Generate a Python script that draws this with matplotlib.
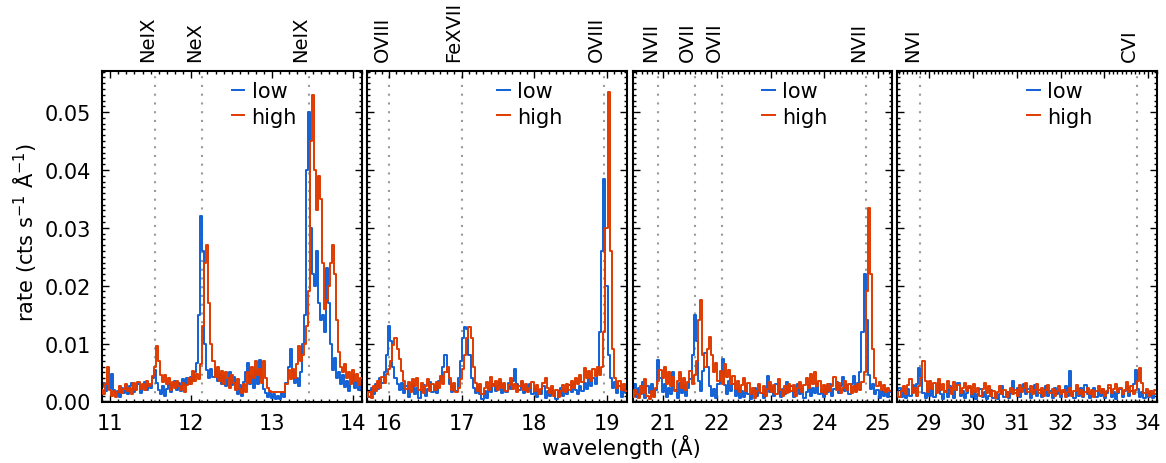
import matplotlib
matplotlib.use("Agg")
import matplotlib.pyplot as plt
import matplotlib.transforms as mtransforms
import numpy as np
from matplotlib.ticker import MultipleLocator

plt.rcParams["font.family"] = ["DejaVu Sans"]
plt.rcParams["mathtext.fontset"] = "dejavusans"

# rates in units of 1e-3 cts/s/A, on regular wavelength grids (start, step)
P1_START, P1_STEP = 10.9, 0.025
P1_LOW = [
    2.5, 3.2, 1.8, 3.5, 2.2, 4.8, 2.0, 1.2, 1.8, 0.8,
    2.4, 1.5, 2.8, 1.2, 2.6, 3.2, 1.6, 2.2, 3.0, 1.4,
    2.5, 3.4, 1.9, 3.0, 2.4, 4.0, 5.4, 3.2, 2.0, 1.2,
    2.6, 1.0, 2.2, 3.0, 1.6, 2.8, 3.6, 2.0, 3.2, 1.8,
    3.8, 2.8, 4.0, 3.0, 4.2, 3.6, 5.0, 6.6, 15.0, 32.0,
    26.0, 10.0, 5.5, 4.0, 5.6, 4.2, 5.2, 3.6, 4.8, 3.0,
    4.4, 2.6, 3.8, 5.0, 2.8, 4.2, 2.2, 1.2, 2.8, 1.0,
    3.4, 5.0, 6.6, 3.0, 4.4, 2.4, 5.2, 3.0, 7.2, 4.0,
    2.2, 1.4, 0.8, 1.6, 0.6, 1.2, 0.5, 1.0, 0.4, 1.4,
    0.8, 3.2, 6.0, 9.0, 5.0, 3.2, 4.0, 2.6, 5.0, 10.0,
    15.0, 40.0, 50.0, 30.0, 22.0, 20.0, 26.0, 17.0, 14.0, 15.0,
    12.0, 23.0, 17.0, 10.0, 5.5, 7.5, 4.0, 5.0, 3.0, 4.5,
    2.5, 3.5, 1.8, 3.2, 4.6, 2.4, 3.4, 2.0, 3.0,
]
P1_HIGH = [
    2.0, 1.2, 3.0, 6.0, 2.0, 1.0, 1.8, 0.8, 1.6, 2.6,
    1.4, 2.2, 3.0, 1.8, 2.4, 1.2, 3.2, 2.0, 3.4, 2.2,
    3.0, 2.0, 3.6, 2.6, 3.0, 4.4, 6.0, 9.5, 7.0, 4.5,
    3.4, 4.6, 3.0, 4.0, 2.0, 3.4, 2.4, 3.6, 2.6, 2.0,
    3.2, 1.6, 2.8, 4.0, 3.0, 5.2, 3.6, 4.8, 3.8, 6.5,
    13.0, 24.0, 27.0, 17.0, 10.0, 7.0, 4.2, 6.0, 3.6, 5.2,
    3.0, 5.0, 4.0, 2.4, 4.6, 3.2, 2.0, 3.8, 2.2, 1.4,
    3.0, 1.6, 5.0, 3.2, 6.0, 4.0, 7.0, 4.6, 5.6, 3.2,
    7.0, 4.0, 2.4, 1.8, 1.6, 1.6, 1.6, 1.6, 1.6, 1.6,
    1.6, 3.0, 5.4, 3.8, 5.6, 4.0, 6.4, 9.5, 7.0, 8.0,
    10.0, 13.0, 19.0, 45.0, 53.0, 40.0, 33.0, 39.0, 35.0, 24.0,
    16.0, 17.5, 20.0, 24.0, 27.0, 22.0, 14.0, 8.5, 6.0, 5.0,
    6.5, 4.0, 5.0, 3.0, 5.5, 3.6, 4.8, 2.8, 4.0,
]

P2_START, P2_STEP = 15.7, 0.03
P2_LOW = [
    1.5, 0.8, 2.4, 1.2, 3.0, 2.2, 4.0, 3.2, 5.0, 8.0,
    13.0, 10.5, 6.0, 4.0, 3.0, 2.0, 3.2, 1.4, 2.6, 0.8,
    2.0, 3.0, 1.2, 2.4, 0.6, 1.8, 2.8, 1.0, 2.2, 3.4,
    1.6, 2.6, 1.4, 3.6, 4.0, 6.0, 8.0, 5.0, 3.0, 1.6,
    2.6, 1.8, 4.0, 7.0, 11.0, 12.9, 12.6, 8.0, 4.0, 2.4,
    1.4, 2.8, 1.2, 0.4, 1.8, 0.6, 2.4, 1.6, 3.0, 1.8,
    2.6, 3.4, 1.4, 2.8, 1.6, 3.2, 2.2, 3.6, 5.6, 3.0,
    2.0, 3.4, 1.4, 2.6, 1.8, 3.0, 1.2, 2.4, 0.8, 2.0,
    1.2, 2.6, 0.6, 1.8, 1.0, 2.2, 1.4, 0.5, 1.6, 2.4,
    1.0, 2.0, 1.2, 2.8, 1.6, 3.0, 2.0, 1.2, 2.6, 1.8,
    3.2, 2.2, 3.8, 2.6, 4.0, 3.0, 5.0, 12.0, 26.0, 38.5,
    20.0, 8.0, 4.0, 2.4, 3.4, 1.4, 2.6, 0.8, 2.2, 1.4,
]
P2_HIGH = [
    0.8, 1.6, 0.6, 2.6, 1.8, 3.6, 2.4, 4.2, 3.2, 4.8,
    5.6, 7.0, 9.8, 11.0, 9.0, 7.4, 5.2, 3.6, 2.2, 3.4,
    1.6, 3.8, 2.6, 4.0, 2.0, 3.2, 1.4, 2.6, 3.8, 1.8,
    3.0, 2.0, 3.4, 2.4, 4.4, 3.0, 5.0, 6.0, 4.0, 2.0,
    3.2, 1.6, 2.4, 3.8, 5.6, 8.0, 11.0, 12.8, 11.0, 6.0,
    3.2, 1.8, 3.0, 1.2, 2.4, 3.4, 2.0, 4.2, 2.6, 3.6,
    2.0, 3.8, 2.4, 3.2, 1.8, 2.8, 4.0, 2.2, 3.0, 1.6,
    2.6, 3.6, 2.0, 3.0, 1.6, 2.4, 3.4, 1.8, 2.8, 1.2,
    2.2, 3.2, 4.0, 2.4, 1.4, 2.6, 1.0, 2.0, 0.8, 1.8,
    2.8, 1.6, 3.0, 2.0, 3.6, 2.4, 4.0, 3.0, 4.6, 3.4,
    5.8, 4.0, 5.2, 3.6, 5.6, 4.4, 6.0, 4.6, 6.0, 12.0,
    30.0, 53.5, 26.0, 9.0, 4.0, 2.4, 3.6, 2.0, 3.0, 1.8,
]

P3_START, P3_STEP = 20.43, 0.04
P3_LOW = [
    1.6, 3.0, 0.8, 2.4, 1.2, 3.4, 0.6, 2.6, 1.4, 3.0,
    1.0, 2.0, 7.2, 4.0, 1.6, 3.0, 0.8, 2.4, 1.2, 5.0,
    2.0, 0.6, 3.2, 1.4, 2.8, 1.0, 2.4, 3.8, 8.0, 15.0,
    10.5, 3.6, 1.8, 5.2, 8.4, 6.0, 2.6, 1.0, 2.2, 0.6,
    3.0, 5.0, 7.4, 2.8, 1.2, 3.6, 1.8, 3.0, 1.0, 2.2,
    0.6, 1.8, 0.8, 2.6, 1.2, 0.4, 1.6, 2.4, 1.0, 2.8,
    1.4, 0.6, 2.0, 4.4, 1.6, 2.6, 1.0, 3.0, 1.8, 0.8,
    2.2, 1.2, 3.4, 1.6, 2.6, 0.8, 1.8, 3.0, 1.2, 2.2,
    0.6, 1.6, 2.8, 1.0, 2.4, 1.4, 3.2, 1.2, 2.0, 0.8,
    2.6, 1.6, 3.0, 1.0, 2.2, 3.4, 1.4, 2.6, 4.2, 1.8,
    2.8, 1.2, 3.0, 4.4, 2.0, 3.2, 5.0, 12.0, 22.0, 14.0,
    4.5, 2.2, 3.0, 1.2, 2.0, 0.6, 1.8, 1.0, 2.2, 0.8,
    1.6,
]
P3_HIGH = [
    0.8, 2.0, 1.2, 0.6, 2.6, 1.4, 3.8, 1.0, 0.4, 1.8,
    0.8, 2.4, 3.6, 5.4, 4.0, 6.0, 3.0, 5.0, 2.6, 4.2,
    1.8, 3.6, 5.0, 2.4, 4.0, 2.0, 3.4, 5.2, 3.0, 4.6,
    7.0, 14.0, 17.6, 8.0, 6.0, 9.0, 11.2, 8.0, 5.0, 6.6,
    3.6, 5.2, 3.0, 6.4, 4.2, 5.4, 3.0, 4.4, 2.2, 3.6,
    1.6, 2.8, 4.0, 1.8, 3.2, 1.2, 2.4, 0.6, 1.8, 3.0,
    1.4, 2.6, 1.0, 2.2, 3.4, 1.6, 2.8, 1.2, 3.8, 2.0,
    1.0, 2.6, 1.4, 3.0, 1.8, 2.8, 1.0, 2.4, 3.4, 1.6,
    2.8, 4.0, 2.4, 4.8, 3.0, 5.0, 2.6, 3.6, 1.6, 2.8,
    1.2, 3.0, 1.8, 2.6, 4.2, 2.0, 3.2, 1.4, 2.4, 3.6,
    2.0, 3.0, 1.4, 2.6, 1.6, 3.0, 2.0, 3.4, 5.0, 19.0,
    33.5, 22.0, 9.0, 4.0, 2.6, 3.4, 2.0, 2.8, 1.6, 2.4,
    1.8,
]

P4_START, P4_STEP = 28.27, 0.05
P4_LOW = [
    1.2, 2.4, 0.8, 1.8, 0.6, 2.2, 1.0, 2.8, 1.6, 3.0,
    5.8, 4.2, 1.4, 0.6, 2.0, 1.0, 2.4, 0.8, 1.6, 3.0,
    1.2, 0.4, 1.8, 0.8, 2.6, 1.4, 0.6, 2.0, 3.2, 1.0,
    1.8, 0.6, 1.4, 2.4, 0.8, 1.6, 0.4, 1.2, 2.2, 0.8,
    1.6, 0.4, 1.0, 2.0, 0.6, 1.4, 0.4, 1.2, 2.6, 0.8,
    1.6, 0.6, 2.2, 3.6, 1.4, 2.4, 0.8, 1.8, 3.0, 1.2,
    2.2, 0.6, 1.6, 2.8, 1.0, 2.0, 0.8, 1.6, 2.6, 1.0,
    1.8, 0.6, 2.4, 1.2, 2.0, 0.8, 1.6, 2.6, 1.0, 5.2,
    1.4, 0.6, 1.8, 1.0, 2.4, 0.8, 2.8, 1.2, 0.6, 1.6,
    2.4, 0.8, 1.8, 1.0, 2.2, 0.6, 1.4, 2.4, 0.8, 1.6,
    0.4, 1.4, 2.2, 0.8, 1.8, 2.6, 1.0, 1.8, 3.0, 5.4,
    2.2, 0.8, 1.6, 0.6, 1.4, 0.8, 1.8, 0.6, 1.2,
]
P4_HIGH = [
    1.6, 0.8, 1.8, 2.6, 1.2, 2.8, 3.8, 1.4, 2.4, 1.0,
    2.6, 4.0, 7.0, 3.6, 1.6, 3.6, 2.2, 3.2, 1.4, 3.8,
    2.0, 3.0, 1.6, 3.6, 2.4, 1.2, 3.4, 2.0, 2.8, 1.4,
    2.4, 3.2, 1.8, 2.6, 1.2, 3.0, 1.6, 2.4, 1.0, 2.2,
    3.2, 1.4, 2.6, 1.0, 1.8, 0.6, 1.6, 2.6, 1.2, 2.0,
    0.8, 1.6, 2.4, 1.2, 2.0, 1.0, 2.8, 1.6, 2.4, 3.2,
    1.6, 2.6, 1.2, 2.0, 3.0, 1.4, 2.4, 1.0, 2.0, 2.8,
    1.4, 2.2, 1.0, 1.8, 2.6, 1.2, 2.0, 0.8, 1.6, 2.4,
    1.0, 1.8, 2.8, 1.2, 2.0, 1.0, 1.6, 2.4, 1.2, 2.0,
    0.8, 1.8, 2.6, 1.4, 2.2, 1.0, 1.8, 2.8, 1.4, 2.2,
    3.0, 1.6, 2.4, 1.2, 2.0, 3.4, 1.6, 2.6, 1.2, 2.0,
    3.6, 5.8, 3.2, 1.4, 2.2, 1.0, 1.8, 1.2, 2.0,
]

XLIMS = [(10.9, 14.1), (15.7, 19.28), (20.43, 25.26), (28.27, 34.2)]
XTICKS = [[11, 12, 13, 14], [16, 17, 18, 19], [21, 22, 23, 24, 25], [29, 30, 31, 32, 33, 34]]
LINE_WL = [[11.55, 12.134, 13.447], [16.006, 17.0, 18.967], [20.91, 21.60, 22.10, 24.78], [28.79, 33.74]]
LINE_ID = [["NeIX", "NeX", "NeIX"], ["OVIII", "FeXVII", "OVIII"], ["NVII", "OVII", "OVII", "NVII"], ["NVI", "CVI"]]

C_LOW = "#1160d6"
C_HIGH = "#e03a00"
W, H = 1166, 464


def main() -> None:
    fig = plt.figure(figsize=(W / 100, H / 100), dpi=100)
    panels = [
        (P1_START, P1_STEP, P1_LOW, P1_HIGH),
        (P2_START, P2_STEP, P2_LOW, P2_HIGH),
        (P3_START, P3_STEP, P3_LOW, P3_HIGH),
        (P4_START, P4_STEP, P4_LOW, P4_HIGH),
    ]
    lefts = [102, 367.3, 632.5, 897.3]
    for k, (start, step, low, high) in enumerate(panels):
        ax = fig.add_axes([lefts[k] / W, 1 - 403 / H, 259.5 / W, 331 / H])
        wl = start + step * np.arange(len(low))
        for w in LINE_WL[k]:
            ax.axvline(w, color="#9a9a9a", lw=1.5, ls=(0, (1, 3.2)), zorder=1)
        ax.plot(wl, np.array(low) * 1e-3, drawstyle="steps-mid", color=C_LOW, lw=1.4, label="low", zorder=2)
        ax.plot(wl, np.array(high) * 1e-3, drawstyle="steps-mid", color=C_HIGH, lw=1.4, label="high", zorder=3)
        ax.set_xlim(*XLIMS[k])
        ax.set_ylim(-0.0001, 0.0571)
        ax.set_xticks(XTICKS[k])
        ax.xaxis.set_minor_locator(MultipleLocator(0.1))
        ax.yaxis.set_major_locator(MultipleLocator(0.01))
        ax.yaxis.set_minor_locator(MultipleLocator(0.001))
        ax.tick_params(which="both", direction="in", top=True, right=True, width=1.0, labelsize=15, pad=8)
        ax.tick_params(which="major", length=5)
        ax.tick_params(which="minor", length=2.5)
        if k == 0:
            ax.yaxis.set_major_formatter(plt.FormatStrFormatter("%.2f"))
        else:
            ax.tick_params(labelleft=False)
        for sp in ax.spines.values():
            sp.set_linewidth(1.5)
        trans = mtransforms.offset_copy(ax.get_xaxis_transform(), fig=fig, x=2, y=10, units="dots")
        for w, name in zip(LINE_WL[k], LINE_ID[k]):
            ax.text(w, 1.0, name, rotation=90, ha="right", va="bottom", fontsize=14, transform=trans)
        ax.legend(loc="upper left", bbox_to_anchor=(0.5, 0.97), frameon=False, fontsize=15,
                  handlelength=0.6, handletextpad=0.35, labelspacing=0.28, borderpad=0, borderaxespad=0)

    fig.text(25 / W, 1 - 232 / H, r"rate (cts s$^{-1}$ Å$^{-1}$)", rotation=90, ha="center", va="center", fontsize=15)
    fig.text(621 / W, 1 - 447 / H, "wavelength (Å)", ha="center", va="center", fontsize=15)
    fig.savefig("out.png", dpi=100)
    plt.close(fig)


if __name__ == "__main__":
    main()
